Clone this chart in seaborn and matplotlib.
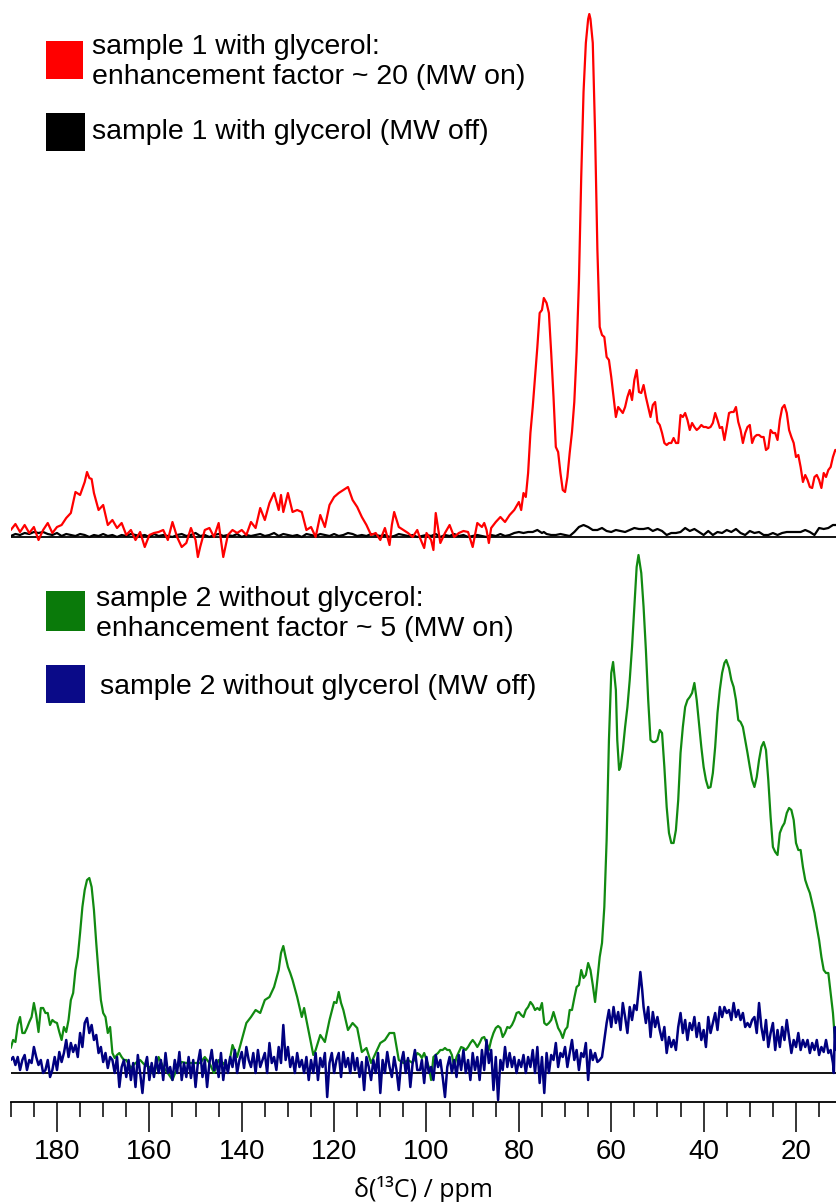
import numpy as np
import pandas as pd
import matplotlib
matplotlib.use("Agg")
import matplotlib.pyplot as plt
from matplotlib.patches import Rectangle
from matplotlib.ticker import MultipleLocator
import seaborn as sns

# ---------------- data (ppm, intensity) ----------------
red_points = [
    (190, 7), (189, 13), (188, 5), (187, 12), (186, 4), (185, 10), (184, -3), (183, 7), (182, 14), (181, 4),
    (180, 10), (179, 12), (178, 19), (177, 24), (176, 45), (175, 42), (174, 55), (173.5, 65), (173, 59), (172.5, 58),
    (172, 44), (171, 27), (170, 32), (169, 12), (168, 17), (167, 9), (166, 14), (165, 2), (164, 7), (163, -3),
    (162, 5), (161, -10), (160, 2), (159, 4), (158, 5), (157, 7), (156, -3), (155, 15), (154, 0), (153, -10),
    (152, -6), (151, 9), (150, -3), (149.5, -20), (149, -10), (148, 7), (147, 9), (146, 0), (145, 14), (144, -20),
    (143, 2), (142, 7), (141, 4), (140, 7), (139, 2), (138, 15), (137, 9), (136, 29), (135, 17), (134, 34),
    (133, 44), (132, 27), (131.5, 42), (131, 25), (130, 44), (129, 25), (128, 27), (127, 25), (126, 7), (125, 10),
    (124, 0), (123, 22), (122, 10), (121, 32), (120, 40), (119, 44), (118, 47), (117, 50), (116, 37), (115, 30),
    (114, 20), (113, 12), (112, 2), (111, 4), (110, -3), (109, 9), (108, -8), (107.5, 12), (107, 25), (106, 10),
    (105, 7), (104, 4), (103, 0), (102, 7), (101.4, -1), (100.5, -11), (100, 4), (99, -3), (98.5, -13), (98, 24),
    (97, -6), (96, 4), (95, 12), (94, 0), (93, 4), (92, 6), (91, 5), (90, -10), (89, 14), (88, 10),
    (87.5, 14), (87, 7), (86.5, -6), (86, 9), (85, 15), (84, 20), (83, 15), (82, 22), (81, 27), (80, 35),
    (79.5, 27), (79, 44), (78.5, 40), (78, 64), (77.5, 104), (77, 130), (76.5, 160), (76, 190), (75.5, 224), (75, 227),
    (74.6, 239), (74, 234), (73.5, 224), (73, 184), (72.5, 140), (72, 90), (71.5, 85), (71, 64), (70.5, 47), (70, 45),
    (69.5, 60), (69, 84), (68.5, 105), (68, 135), (67.5, 185), (67, 255), (66.5, 360), (66, 445), (65.5, 494), (65, 518),
    (64.75, 523), (64.5, 518), (64, 494), (63.5, 404), (63, 287), (62.5, 210), (62, 202), (61.5, 200), (61, 180), (60.5, 177),
    (60, 160), (59.5, 140), (59, 120), (58.5, 130), (58, 127), (57.5, 124), (57, 130), (56.5, 140), (56, 147), (55.5, 137),
    (55, 157), (54.5, 167), (54, 145), (53.5, 144), (53, 152), (52.5, 140), (52, 130), (51.5, 120), (51, 132), (50.5, 135),
    (50, 115), (49.5, 112), (49, 104), (48.5, 94), (48, 92), (47.5, 94), (47, 94), (46.5, 99), (46, 94), (45.5, 94),
    (45, 122), (44.5, 120), (44, 124), (43.5, 117), (43, 107), (42.5, 114), (42, 110), (41.5, 107), (41, 109), (40.5, 112),
    (40, 110), (39.5, 110), (39, 109), (38.5, 110), (38, 114), (37.5, 124), (37, 117), (36.5, 109), (36, 110), (35.5, 97),
    (35, 110), (34.5, 124), (34, 125), (33.5, 125), (33, 130), (32.5, 115), (32, 107), (31.5, 94), (31, 104), (30.5, 110),
    (30, 112), (29.5, 94), (29, 100), (28.5, 102), (28, 102), (27.5, 100), (27, 100), (26.5, 87), (26, 89), (25.5, 107),
    (25, 104), (24.5, 104), (24, 97), (23.5, 117), (23, 129), (22.5, 132), (22, 124), (21.5, 107), (21, 100), (20.5, 94),
    (20, 80), (19.5, 82), (19, 70), (18.5, 55), (18, 62), (17.5, 57), (17, 50), (16.5, 49), (16, 60), (15.5, 62),
    (15, 57), (14.5, 49), (14, 64), (13.5, 60), (13, 67), (12.5, 70), (12, 80), (11.5, 87), (11.3, 87),
]

black_points = [
    (190, 1), (189, 3), (188, 2), (187, 4), (186, 3), (185, 5), (184, 4), (183, 5), (182, 3), (181, 2),
    (180, 4), (179, 1), (178, 3), (177, 2), (176, 1), (175, 3), (174, 2), (173, 0), (172, 2), (171, 1),
    (170, 3), (169, 1), (168, 2), (167, 0), (166, 2), (165, 1), (164, 3), (163, 2), (162, 1), (161, 2),
    (160, 0), (159, 3), (158, 1), (157, 2), (156, 1), (155, 0), (154, 2), (153, 3), (152, 1), (151, 2),
    (150, 4), (149, 1), (148, 2), (147, 0), (146, 2), (145, 3), (144, 1), (143, 2), (142, 1), (141, 3),
    (140, 0), (139, 2), (138, 1), (137, 2), (136, 3), (135, 1), (134, 2), (133, 4), (132, 1), (131, 3),
    (130, 2), (129, 1), (128, 2), (127, 0), (126, 3), (125, 2), (124, 1), (123, 3), (122, 2), (121, 1),
    (120, 3), (119, 1), (118, 2), (117, 4), (116, 3), (115, 1), (114, 2), (113, 1), (112, 3), (111, 2),
    (110, 1), (109, 2), (108, 0), (107, 1), (106, 3), (105, 2), (104, 1), (103, 2), (102, 0), (101, 1),
    (100, 2), (99, 1), (98, 3), (97, 0), (96, 2), (95, 1), (94, 3), (93, 1), (92, 2), (91, 0),
    (90, 1), (89, 2), (88, 1), (87, 0), (86, 2), (85, 1), (84, 3), (83, 1), (82, 2), (81, 4),
    (80, 5), (79, 4), (78, 5), (77, 5), (76, 7), (75, 4), (74.6, 5), (74, 3), (73, 2), (72, 2),
    (71, 3), (70, 2), (69, 1), (68, 5), (67, 10), (66, 12), (65, 10), (64, 7), (63, 7), (62, 9),
    (61, 6), (60, 5), (59, 7), (58, 6), (57, 5), (56, 7), (55, 9), (54, 8), (53, 8), (52, 9),
    (51, 6), (50, 8), (49, 6), (48, 2), (47, 4), (46, 4), (45, 5), (44, 9), (43, 6), (42, 8),
    (41, 5), (40, 2), (39, 6), (38, 2), (37, 5), (36, 4), (35, 7), (34, 5), (33, 8), (32, 4),
    (31, 2), (30, 6), (29, 4), (28, 5), (27, 2), (26, 2), (25, 4), (24, 2), (23, 4), (22, 5),
    (21, 5), (20, 5), (19, 5), (18, 7), (17, 5), (16, 2), (15, 9), (14, 8), (13, 9), (12, 12),
    (11.3, 12),
]

green_points = [
    (190, 25), (189.5, 33), (189, 31), (188.5, 48), (188, 56), (187.5, 40), (187, 40), (186.5, 45), (186, 51), (185.5, 56),
    (185, 70), (184.5, 58), (184, 41), (183.5, 65), (183, 65), (182.5, 60), (182, 60), (181.5, 48), (181, 53), (180.5, 51),
    (180, 50), (179.5, 41), (179, 33), (178.5, 46), (178, 41), (177.5, 53), (177, 73), (176.5, 80), (176, 103), (175.5, 116),
    (175, 140), (174.5, 166), (174, 183), (173.5, 193), (173, 195), (172.5, 186), (172, 163), (171.5, 130), (171, 100), (170.5, 73),
    (170, 60), (169.5, 56), (169, 40), (168.5, 46), (168, 20), (167.5, 15), (167, 18), (166.5, 20), (166, 16), (165.5, 13),
    (165, 13), (164, 5), (163, 10), (162, 13), (161, 8), (160, 6), (159, -2), (158, 16), (157, 6), (156, 0),
    (155, -7), (154, 5), (153, 11), (152, 10), (151, 10), (150, 10), (149, 10), (148, 16), (147, 10), (146, 0),
    (145, 13), (144, 10), (143, 3), (142, 28), (141, 16), (140, 33), (139, 50), (138, 56), (137, 63), (136, 60),
    (135, 73), (134, 76), (133, 86), (132, 103), (131.5, 120), (131, 127), (130.5, 116), (130, 106), (129.5, 100), (129, 93),
    (128, 76), (127, 56), (126.5, 65), (126, 53), (125, 30), (124.5, 18), (124, 23), (123, 38), (122, 31), (121, 53),
    (120, 71), (119.5, 70), (119, 81), (118.5, 70), (118, 63), (117, 43), (116, 50), (115, 45), (114, 21), (113, 25),
    (112, 10), (111, 20), (110, 30), (109, 33), (108, 40), (107, 40), (106, 13), (105, 10), (104, 13), (103, 10),
    (102, 20), (101.4, 18), (101, 15), (100.5, 20), (100, 13), (99.5, 6), (99, -7), (98.5, 16), (98, 18), (97.5, 20),
    (97, 23), (96.5, 23), (96, 25), (95.5, 23), (95, 23), (94.5, 18), (94, 6), (93.5, 16), (93, 21), (92.5, 26),
    (92, 25), (91.5, 23), (91, 26), (90.5, 30), (90, 33), (89.5, 30), (89, 26), (88.5, 30), (88, 35), (87.5, 36),
    (87, 30), (86.5, 23), (86, 33), (85.5, 40), (85, 45), (84.5, 47), (84, 45), (83.5, 36), (83, 40), (82.5, 46),
    (82, 45), (81.5, 48), (81, 53), (80.5, 60), (80, 61), (79.5, 58), (79, 56), (78.5, 63), (78, 66), (77.5, 71),
    (77, 68), (76.5, 63), (76, 65), (75.5, 63), (75, 70), (74.5, 50), (74, 48), (73.5, 50), (73, 53), (72.5, 61),
    (72, 53), (71.5, 45), (71, 41), (70.5, 35), (70, 43), (69.5, 46), (69, 63), (68.5, 63), (68, 75), (67.5, 86),
    (67, 88), (66.5, 103), (66, 95), (65.5, 98), (65, 110), (64.5, 103), (64, 88), (63.5, 71), (63, 93), (62.5, 116),
    (62, 130), (61.5, 166), (61, 233), (60.5, 333), (60, 400), (59.6, 411), (59, 383), (58.7, 333), (58.3, 303), (58, 306),
    (57.5, 323), (57, 346), (56.5, 366), (56, 393), (55.5, 426), (55, 466), (54.5, 506), (54.1, 518), (53.5, 500), (53, 466),
    (52.5, 423), (52, 373), (51.5, 333), (51, 331), (50.5, 331), (50, 333), (49.5, 343), (49, 340), (48.5, 306), (48, 266),
    (47.5, 240), (47, 230), (46.5, 230), (46, 243), (45.5, 273), (45, 320), (44.5, 346), (44, 366), (43.5, 373), (43, 376),
    (42.5, 380), (42, 390), (41.5, 373), (41, 350), (40.5, 326), (40, 306), (39.5, 293), (39, 285), (38.5, 286), (38, 300),
    (37.5, 326), (37, 360), (36.5, 383), (36, 400), (35.5, 410), (35.1, 413), (34.5, 405), (34, 393), (33.5, 386), (33, 373),
    (32.5, 353), (32, 351), (31.5, 346), (31, 333), (30.5, 320), (30, 306), (29.5, 293), (29, 286), (28.5, 296), (28, 313),
    (27.5, 326), (27, 331), (26.5, 323), (26, 293), (25.5, 256), (25, 226), (24.5, 221), (24, 218), (23.5, 240), (23, 246),
    (22.5, 250), (22, 260), (21.5, 265), (21, 263), (20.5, 253), (20, 230), (19.5, 223), (19, 223), (18.5, 206), (18, 193),
    (17.5, 186), (17, 180), (16.5, 170), (16, 160), (15.5, 146), (15, 133), (14.5, 116), (14, 103), (13.5, 100), (13, 100),
    (12.5, 80), (12, 60), (11.6, 35), (11.3, 33),
]

navy_points = [
    (190, 13), (189.5, 16), (189, 8), (188.5, 16), (188, 3), (187.5, 13), (187, 18), (186.5, 3), (186, 13), (185.5, 10),
    (185, 26), (184.5, 16), (184, 8), (183.5, 13), (183, 0), (182.5, 3), (182, 13), (181.5, -4), (181, 3), (180.5, 16),
    (180, 3), (179.5, 21), (179, 11), (178.5, 20), (178, 33), (177.5, 16), (177, 30), (176.5, 21), (176, 28), (175.5, 16),
    (175, 40), (174.5, 26), (174, 50), (173.5, 55), (173, 40), (172.5, 48), (172, 33), (171.5, 38), (171, 20), (170.5, 26),
    (170, 11), (169.5, 20), (169, 5), (168.5, 16), (168, 13), (167.5, 0), (167, 16), (166.5, -14), (166, 6), (165.5, 13),
    (165, -4), (164.5, 13), (164, -7), (163.5, 10), (163, -14), (162.5, 18), (162, 0), (161.5, -20), (161, 6), (160.5, 16),
    (160, -7), (159.5, 10), (159, -4), (158.5, 16), (158, 0), (157.5, 13), (157, -7), (156.5, 20), (156, 0), (155.5, 6),
    (155, -7), (154.5, 13), (154, 0), (153.5, 21), (153, -7), (152.5, 10), (152, -4), (151.5, 16), (151, -5), (150.5, 13),
    (150, -14), (149.5, 10), (149, 23), (148.5, -4), (148, 13), (147.5, -14), (147, 10), (146.5, 23), (146, 3), (145.5, 13),
    (145, -4), (144.5, 20), (144, -7), (143.5, 13), (143, 0), (142.5, 16), (142, 6), (141.5, 23), (141, 0), (140.5, 13),
    (140, 21), (139.5, 5), (139, 26), (138.5, 13), (138, 6), (137.5, 20), (137, 0), (136.5, 23), (136, 6), (135.5, 13),
    (135, 20), (134.5, 0), (134, 30), (133.5, 10), (133, 16), (132.5, 3), (132, 26), (131.5, 10), (131, 48), (130.5, 13),
    (130, 26), (129.5, 6), (129, 16), (128.5, 0), (128, 20), (127.5, 6), (127, 13), (126.5, 0), (126, 16), (125.5, -7),
    (125, 13), (124.5, 0), (124, 20), (123.5, -7), (123, 15), (122.5, 6), (122, 20), (121.5, -24), (121, 10), (120.5, 20),
    (120, 0), (119.5, 13), (119, 20), (118.5, -4), (118, 21), (117.5, 6), (117, 15), (116.5, 0), (116, 20), (115.5, 3),
    (115, 15), (114.5, -4), (114, 11), (113.5, -17), (113, 16), (112.5, 6), (112, -7), (111.5, 13), (111, 0), (110.5, 20),
    (110, -20), (109.5, 13), (109, 0), (108.5, 21), (108, 6), (107.5, -4), (107, 16), (106.5, 3), (106, -17), (105.5, 10),
    (105, 21), (104.5, 0), (104, 15), (103.5, -14), (103, 10), (102.5, 23), (102, 3), (101.4, 3), (101, 13), (100.5, -10),
    (100, 16), (99.5, 0), (99, 6), (98.5, -7), (98, 18), (97.5, 6), (97, 13), (96.5, -4), (96, -24), (95.5, 6),
    (95, 16), (94.5, 0), (94, 13), (93.5, -4), (93, 18), (92.5, 3), (92, 23), (91.5, 0), (91, 13), (90.5, -7),
    (90, 20), (89.5, 3), (89, 16), (88.5, -7), (88, 23), (87.5, 3), (87, 33), (86.5, 10), (86, 23), (85.5, -17),
    (85, 16), (84.5, -27), (84, 13), (83.5, 3), (83, 26), (82.5, 6), (82, 20), (81.5, 6), (81, 16), (80.5, 0),
    (80, 13), (79.5, 6), (79, 18), (78.5, 0), (78, 16), (77.5, 6), (77, 23), (76.5, 0), (76, 26), (75.5, -10),
    (75, 16), (74.5, -20), (74, 20), (73.5, 0), (73, 18), (72.5, 13), (72, 30), (71.5, 6), (71, 20), (70.5, 16),
    (70, 26), (69.5, 6), (69, 20), (68.5, 33), (68, 13), (67.5, 23), (67, 3), (66.5, 20), (66, 16), (65.5, 30),
    (65, -7), (64.5, 23), (64, 13), (63.5, 20), (63, 11), (62.5, 13), (62, 16), (61.5, 33), (61, 50), (60.5, 63),
    (60, 46), (59.5, 66), (59, 50), (58.5, 61), (58, 43), (57.5, 70), (57, 56), (56.5, 40), (56, 66), (55.5, 53),
    (55, 68), (54.5, 63), (54, 86), (53.7, 101), (53.3, 83), (53, 66), (52.5, 50), (52, 66), (51.5, 36), (51, 61),
    (50.5, 46), (50, 56), (49.5, 43), (49, 33), (48.5, 46), (48, 20), (47.5, 36), (47, 26), (46.5, 33), (46, 23),
    (45.5, 46), (45, 60), (44.5, 40), (44, 53), (43.5, 33), (43, 50), (42.5, 43), (42, 56), (41.5, 36), (41, 50),
    (40.5, 33), (40, 43), (39.5, 26), (39, 56), (38.5, 40), (38, 50), (37.5, 60), (37, 43), (36.5, 66), (36, 56),
    (35.5, 66), (35, 60), (34.5, 63), (34, 53), (33.5, 70), (33, 56), (32.5, 63), (32, 53), (31.5, 60), (31, 46),
    (30.5, 50), (30, 46), (29.5, 53), (29, 56), (28.5, 40), (28, 70), (27.5, 46), (27, 33), (26.5, 53), (26, 26),
    (25.5, 40), (25, 50), (24.5, 23), (24, 43), (23.5, 26), (23, 46), (22.5, 33), (22, 53), (21.5, 36), (21, 20),
    (20.5, 33), (20, 26), (19.5, 40), (19, 23), (18.5, 33), (18, 26), (17.5, 33), (17, 20), (16.5, 30), (16, 23),
    (15.5, 33), (15, 18), (14.5, 26), (14, 21), (13.5, 33), (13, 20), (12.5, 23), (12, 10), (11.8, 0), (11.6, 46),
    (11.3, 23),
]

x_ticks = [180, 160, 140, 120, 100, 80, 60, 40, 20]
x_tick_labels = ["180", "160", "140", "120", "100", "80", "60", "40", "20"]
x_label = "δ(¹³C) / ppm"
legend_top = [["sample 1 with glycerol:", "enhancement factor ~ 20 (MW on)"], ["sample 1 with glycerol (MW off)"]]
legend_bottom = [["sample 2 without glycerol:", "enhancement factor ~ 5 (MW on)"], ["sample 2 without glycerol (MW off)"]]


def to_df(points):
    ppm, val = zip(*points)
    return pd.DataFrame({"ppm": ppm, "intensity": val})


red_df = to_df(red_points)
black_df = to_df(black_points)
green_df = to_df(green_points)
navy_df = to_df(navy_points)

# ---------------- style ----------------
sns.set_theme(style="white")
plt.rcParams["font.family"] = ["Liberation Sans", "DejaVu Sans"]
plt.rcParams["text.color"] = "black"
plt.rcParams["axes.labelcolor"] = "black"
plt.rcParams["xtick.color"] = "black"

W, H = 836, 1202
fig = plt.figure(figsize=(W / 100, H / 100), dpi=100)
fig.patch.set_facecolor("white")

L = 10.8 / W
ax_top = fig.add_axes([L, 1 - 560 / H, 1 - L, 560 / H])
ax_bot = fig.add_axes([L, 1 - 1102 / H, 1 - L, 557 / H])
for ax in (ax_top, ax_bot):
    ax.set_facecolor("none")
    ax.set_xlim(190, 11.34)

RED = "#ff0000"
GREEN = "#118a11"
NAVY = "#000080"

# top panel
ax_top.axhline(0, color="black", lw=1.3, zorder=1)
sns.lineplot(data=black_df, x="ppm", y="intensity", ax=ax_top, color="black", lw=1.6,
             sort=False, estimator=None, legend=False, zorder=2)
sns.lineplot(data=red_df, x="ppm", y="intensity", ax=ax_top, color=RED, lw=1.6,
             sort=False, estimator=None, legend=False, zorder=3)
ax_top.set_ylim(537 - 560, 537)
ax_top.axis("off")

# bottom panel
ax_bot.axhline(0, color="black", lw=1.3, zorder=1)
sns.lineplot(data=green_df, x="ppm", y="intensity", ax=ax_bot, color=GREEN, lw=1.6,
             sort=False, estimator=None, legend=False, zorder=2)
sns.lineplot(data=navy_df, x="ppm", y="intensity", ax=ax_bot, color=NAVY, lw=1.8,
             sort=False, estimator=None, legend=False, zorder=3)
ax_bot.set_ylim(-(1102 - 1073), 1073 - 545)
for s in ("top", "left", "right"):
    ax_bot.spines[s].set_visible(False)
ax_bot.spines["bottom"].set_color("black")
ax_bot.spines["bottom"].set_linewidth(1.3)
ax_bot.set_yticks([])
ax_bot.set_ylabel("")
ax_bot.set_xticks(x_ticks)
ax_bot.set_xticklabels(x_tick_labels, family=["Liberation Sans Narrow", "Liberation Sans"],
                       fontsize=20, color="black")
ax_bot.xaxis.set_minor_locator(MultipleLocator(5))
ax_bot.tick_params(axis="x", which="major", direction="out", length=21.6, width=1.1,
                   color="black", labelcolor="black", pad=5, bottom=True)
ax_bot.tick_params(axis="x", which="minor", direction="out", length=10.8, width=1.1,
                   color="black", bottom=True)
ax_bot.set_xlabel(x_label, family=["Open Sans", "DejaVu Sans"], fontsize=18, labelpad=8, color="black")
ax_top.set_xlabel("")


# ---------------- legends ----------------
def px_rect(x0, y0, w, h, color):
    fig.add_artist(Rectangle((x0 / W, 1 - (y0 + h) / H), w / W, h / H,
                             transform=fig.transFigure, facecolor=color, edgecolor="none"))


def px_lines(x, baselines, lines):
    for yb, s in zip(baselines, lines):
        fig.text(x / W, 1 - yb / H, s, ha="left", va="baseline", fontsize=20.5,
                 color="black", family=["Liberation Sans", "DejaVu Sans"])


px_rect(46, 41, 37, 38, RED)
px_lines(92, [54, 84], legend_top[0])
px_rect(46, 113, 39, 38, "black")
px_lines(92, [139], legend_top[1])

px_rect(46, 591, 39, 40, "#0a7a0a")
px_lines(96, [606, 636], legend_bottom[0])
px_rect(46, 665, 39, 38, "#0a0a88")
px_lines(100, [694], legend_bottom[1])

fig.savefig("out.png", dpi=100, facecolor="white")
